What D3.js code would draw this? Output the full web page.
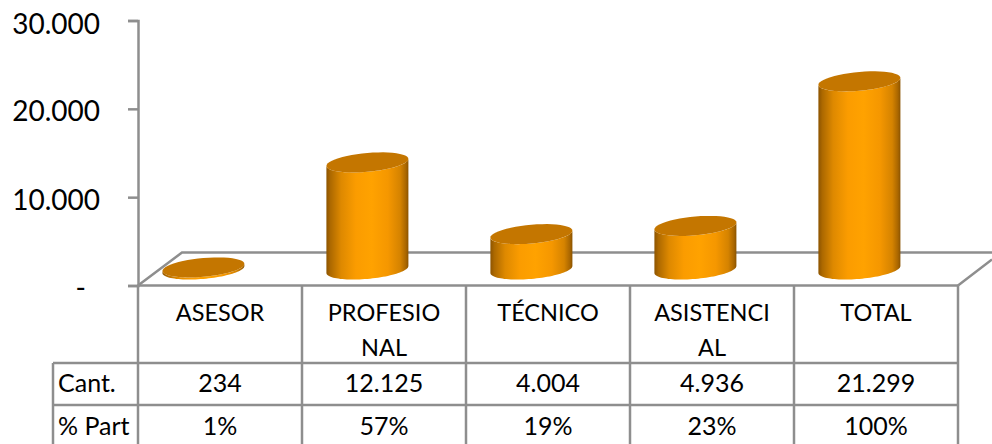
<!DOCTYPE html>
<html>
<head>
<meta charset="utf-8">
<script src="https://cdn.jsdelivr.net/npm/d3@7"></script>
<style>
  html, body { margin: 0; background: #fff; }
  text { font-family: Lato, "Open Sans", sans-serif; fill: #000; }
</style>
</head>
<body>
<div id="d3-container"></div>
<script>
/* DATA */
const categories = ["ASESOR", "PROFESIONAL", "TÉCNICO", "ASISTENCIAL", "TOTAL"];
const categoryLines = [["ASESOR"], ["PROFESIO", "NAL"], ["TÉCNICO"], ["ASISTENCI", "AL"], ["TOTAL"]];
const cantValues = [234, 12125, 4004, 4936, 21299];
const partLabels = ["1%", "57%", "19%", "23%", "100%"];
const rowLabels = ["Cant.", "% Part"];
const yTicks = [0, 10000, 20000, 30000];

/* CONSTANTS */
const width = 992,
  height = 444,
  plot = { left: 138, right: 958, top: 20.5, bottom: 285.5 },
  depth = { x: 44, y: 33 },
  rows = { first: 363, second: 405, end: 444 },
  labelColLeft = 53,
  lineColor = "#8e8e8e";

// cylinders sit on the floor, a bit up and left of the table column centre
const cyl = { rx: 41, ry: 9.4, skew: 3.5, dx: -16.6, dy: -16 };

const locale = d3.formatLocale({ decimal: ",", thousands: ".", grouping: [3], currency: ["", ""] });
const fmt = locale.format(",d");

const svg = d3.select("#d3-container")
  .append("svg")
  .attr("width", width)
  .attr("height", height)
  .style("display", "block");

const xScale = d3.scaleBand()
  .domain(categories)
  .range([plot.left, plot.right]);

const yScale = d3.scaleLinear()
  .domain([0, 30000])
  .range([plot.bottom, plot.top]);

// side shading of the cylinders
const grad = svg.append("defs").append("linearGradient").attr("id", "cylFill");
grad.selectAll("stop")
  .data([
    [0, "#8d5400"], [0.05, "#ad6900"], [0.18, "#de8900"], [0.36, "#fb9c00"],
    [0.55, "#ffa200"], [0.75, "#f59700"], [0.9, "#d58300"], [0.97, "#a96600"], [1, "#8a5300"]
  ])
  .join("stop")
  .attr("offset", d => d[0])
  .attr("stop-color", d => d[1]);

/* FLOOR */
svg.append("path")
  .attr("d", `M${plot.left},${plot.bottom}L${plot.left + depth.x},${plot.bottom - depth.y}H${width}`
    + `M${plot.right},${plot.bottom}L${width},${plot.bottom - 26}`)
  .attr("fill", "none")
  .attr("stroke", lineColor)
  .attr("stroke-width", 2.5);

/* Y AXIS */
const yAxis = d3.axisLeft(yScale)
  .tickValues(yTicks)
  .tickSize(10)
  .tickPadding(28)
  .tickFormat(d => d === 0 ? "-" : fmt(d));

const yG = svg.append("g")
  .attr("transform", `translate(${plot.left},0)`)
  .call(yAxis);

yG.select(".domain").attr("stroke", lineColor).attr("stroke-width", 2.5);
yG.selectAll(".tick line").attr("stroke", lineColor).attr("stroke-width", 2.5);
yG.selectAll(".tick text")
  .attr("font-size", 28)
  .attr("font-family", "Lato")
  .attr("dy", d => d === 30000 ? 13 : 12)
  .attr("dx", d => d === 0 ? -14 : 0);

/* TABLE */
const colEdges = categories.map(d => xScale(d)).concat(plot.right);
const table = svg.append("g")
  .attr("stroke", lineColor)
  .attr("stroke-width", 2.5)
  .attr("fill", "none");

table.selectAll(".col")
  .data(colEdges)
  .join("line")
  .attr("class", "col")
  .attr("x1", d => d).attr("x2", d => d)
  .attr("y1", plot.bottom).attr("y2", rows.end);

table.selectAll(".row")
  .data([rows.first, rows.second])
  .join("line")
  .attr("class", "row")
  .attr("x1", labelColLeft).attr("x2", plot.right)
  .attr("y1", d => d).attr("y2", d => d);

table.append("line")
  .attr("x1", plot.left).attr("x2", plot.right)
  .attr("y1", plot.bottom).attr("y2", plot.bottom);

table.append("line")
  .attr("x1", labelColLeft).attr("x2", labelColLeft)
  .attr("y1", rows.first).attr("y2", rows.end);

const colCentre = d => xScale(d) + xScale.bandwidth() / 2;

svg.selectAll(".cat")
  .data(categories)
  .join("text")
  .attr("class", "cat")
  .attr("text-anchor", "middle")
  .attr("font-size", 23.5)
  .selectAll("tspan")
  .data((d, i) => categoryLines[i].map((line, j) => ({ line, j, x: colCentre(d) })))
  .join("tspan")
  .attr("x", d => d.x)
  .attr("y", d => 321 + d.j * 34.5)
  .text(d => d.line);

svg.selectAll(".cant")
  .data(categories)
  .join("text")
  .attr("class", "cant")
  .attr("text-anchor", "middle")
  .attr("font-size", 25)
  .attr("x", colCentre)
  .attr("y", 392)
  .text((d, i) => fmt(cantValues[i]));

svg.selectAll(".part")
  .data(categories)
  .join("text")
  .attr("class", "part")
  .attr("text-anchor", "middle")
  .attr("font-size", 25)
  .attr("x", colCentre)
  .attr("y", 435)
  .text((d, i) => partLabels[i]);

svg.selectAll(".rowLabel")
  .data(rowLabels)
  .join("text")
  .attr("class", "rowLabel")
  .attr("font-size", 25)
  .attr("x", labelColLeft + 5)
  .attr("y", (d, i) => i === 0 ? 392 : 435)
  .text(d => d);

/* CYLINDERS */
const line = d3.line();
const rimPoint = (cx, cy, t) => [
  cx + cyl.rx * Math.cos(t),
  cy + cyl.ry * Math.sin(t) - cyl.skew * Math.cos(t)
];
const steps = d3.range(0, 1.0001, 1 / 48);

function bodyPath(cx, yTop, yBase) {
  // front half of the base, then back up along the top rim
  const lower = steps.map(s => rimPoint(cx, yBase, Math.PI * s));
  const upper = steps.map(s => rimPoint(cx, yTop, Math.PI * (1 - s)));
  return line(lower.concat(upper)) + "Z";
}

function topPath(cx, yTop) {
  return line(steps.map(s => rimPoint(cx, yTop, 2 * Math.PI * s))) + "Z";
}

const bars = svg.selectAll(".bar")
  .data(categories.map((d, i) => ({
    key: d,
    cx: colCentre(d) + cyl.dx,
    yTop: yScale(cantValues[i]) + cyl.dy,
    yBase: yScale(0) + cyl.dy
  })))
  .join("g")
  .attr("class", "bar");

bars.append("path")
  .attr("d", d => bodyPath(d.cx, d.yTop, d.yBase))
  .attr("fill", "url(#cylFill)");

bars.append("path")
  .attr("d", d => topPath(d.cx, d.yTop))
  .attr("fill", "#c47600");
</script>
</body>
</html>
